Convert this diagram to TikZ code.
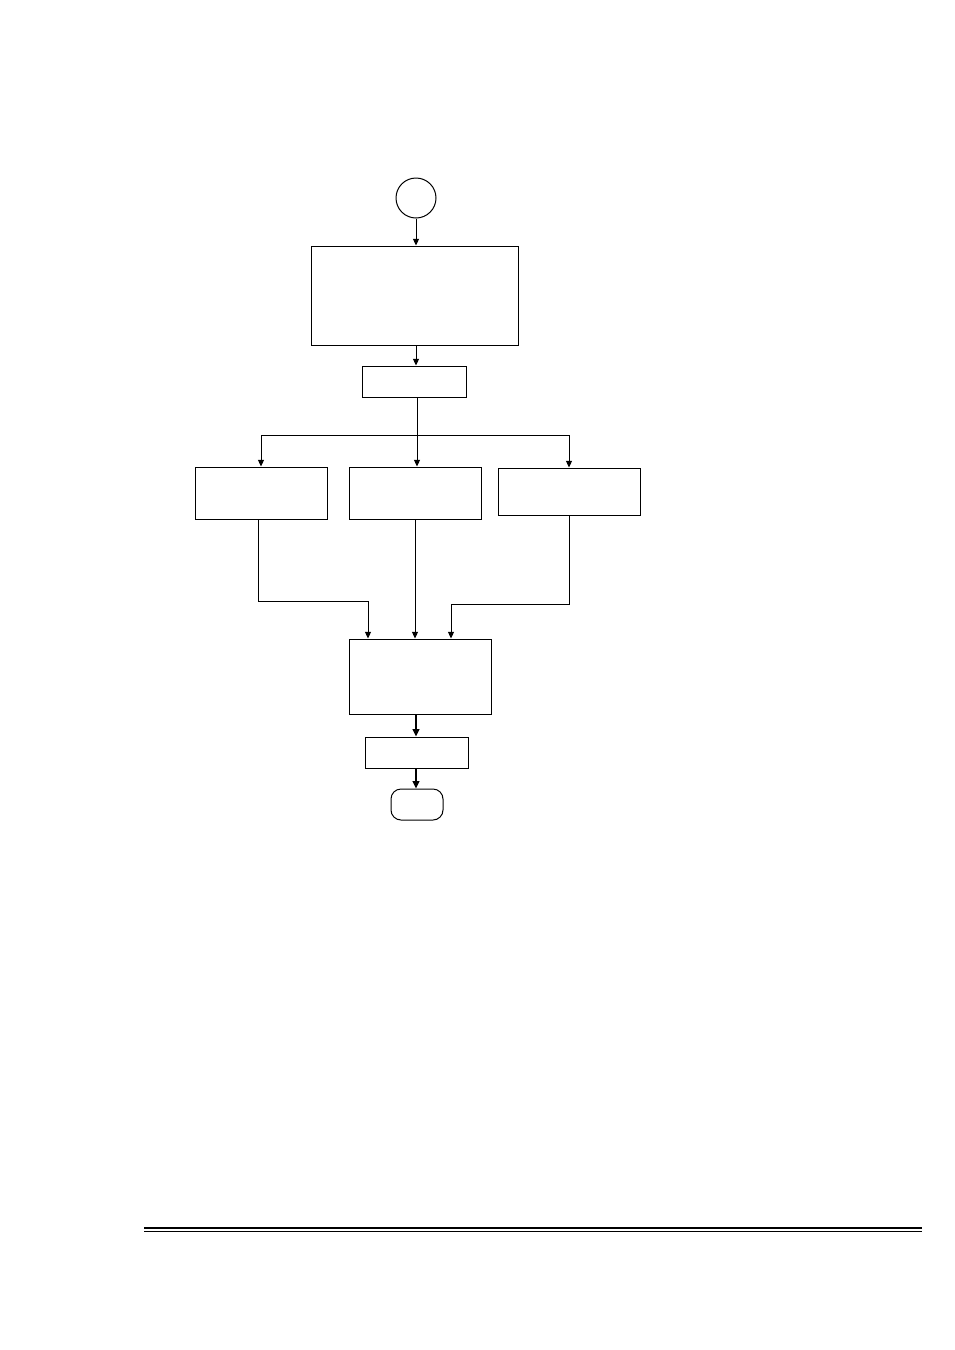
\documentclass[tikz,border=0pt]{standalone}
\usetikzlibrary{arrows.meta}
\tikzset{
  box/.style = {draw, line width = 0.75pt, inner sep = 0pt},
  tip/.style = {-{Triangle[width = 4.5pt, length = 5pt]}, line width = 0.75pt},
  thicktip/.style = {-{Triangle[width = 5pt, length = 5.5pt]}, line width = 1.6pt}
}
\begin{document}
\begin{tikzpicture}[x = 0.75pt, y = -0.75pt]
  \useasboundingbox (0, 0) rectangle (954, 1350);
  % start and first steps
  \node[box, circle, minimum size = 30pt] (start) at (416, 198) {};
  \node[box, minimum width = 155.25pt, minimum height = 74.25pt] (intro)
  at (414.5, 295.5) {};
  \node[box, minimum width = 78pt, minimum height = 23.25pt] (select)
  at (414, 381.5) {};
  % three branches
  \node[box, minimum width = 99pt, minimum height = 39pt] (left)
  at (261, 493) {};
  \node[box, minimum width = 99pt, minimum height = 39pt] (mid)
  at (415, 493) {};
  \node[box, minimum width = 106.5pt, minimum height = 35.25pt] (right)
  at (569, 491.5) {};
  % merge and end
  \node[box, minimum width = 106.5pt, minimum height = 56.25pt] (merge)
  at (420, 676.5) {};
  \node[box, minimum width = 77.25pt, minimum height = 23.25pt] (output)
  at (416.5, 752.5) {};
  \node[box, rounded corners = 7.5pt, minimum width = 39pt,
  minimum height = 23.25pt] (stop) at (417, 804.5) {};
  % draw connectors
  \coordinate (fork) at (417, 435);
  \coordinate (bendL) at (368, 601);
  \coordinate (bendR) at (451, 604);
  \draw[tip] (start.south) -- (start.south |- intro.north);
  \draw[tip] (intro.south -| start) -- (select.north -| start);
  \draw[line width = 0.75pt] (select.south -| fork) -- (fork);
  \draw[tip] (fork) -| (left.north);
  \draw[tip] (fork) -- (fork |- mid.north);
  \draw[tip] (fork) -| (right.north);
  \draw[tip] (left.south -| 258, 0) |- (bendL) -- (bendL |- merge.north);
  \draw[tip] (mid.south) -- (mid.south |- merge.north);
  \draw[tip] (right.south) |- (bendR) -- (bendR |- merge.north);
  \draw[thicktip] (merge.south -| start) -- (output.north -| start);
  \draw[thicktip] (output.south -| start) -- (stop.north -| start);
  % draw double rule
  \draw[line width = 0.9pt] (144, 1228) -- (922, 1228);
  \draw[line width = 1.2pt] (144, 1231.5) -- (922, 1231.5);
\end{tikzpicture}
\end{document}
